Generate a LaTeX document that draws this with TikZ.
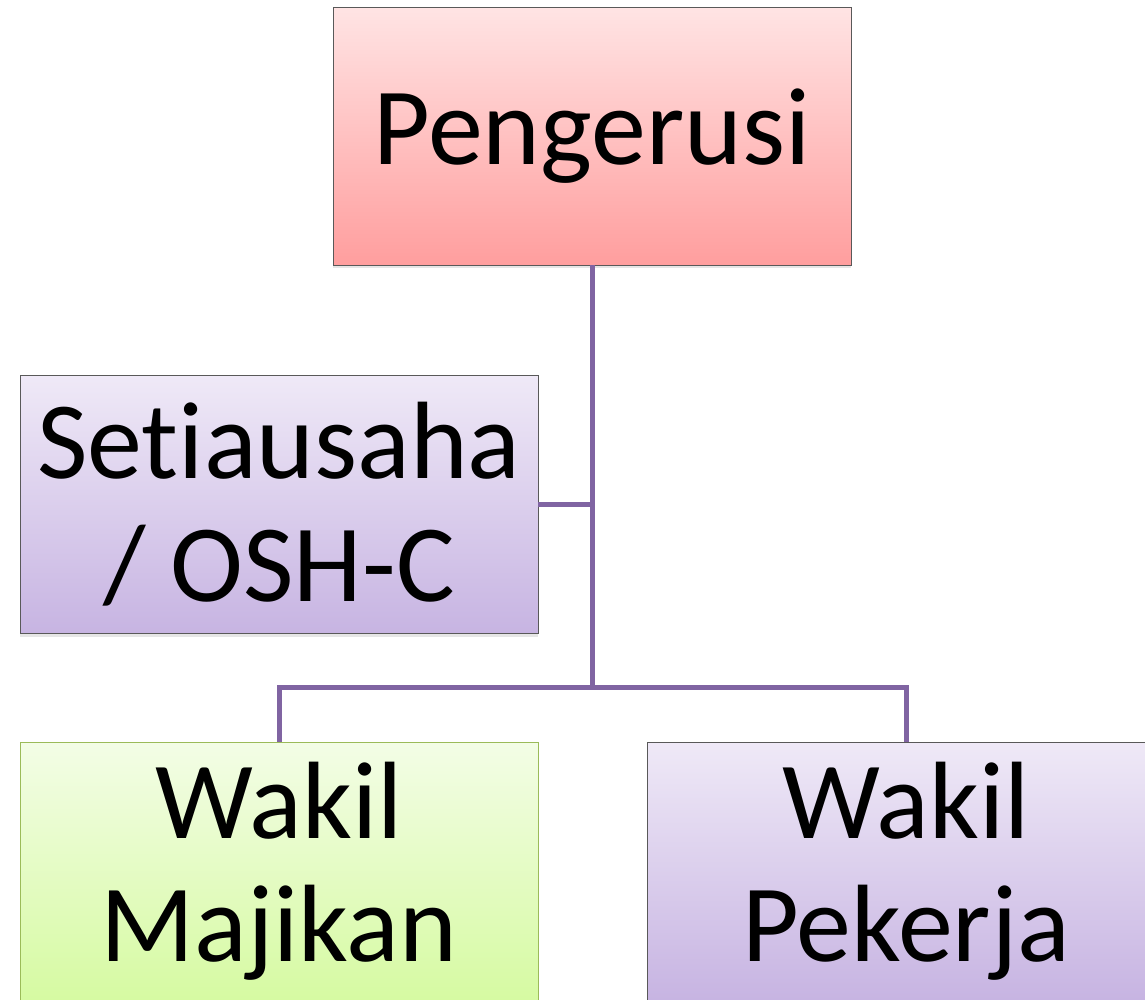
\documentclass[tikz,border=0pt]{standalone}
\usepackage{fontspec}
\setmainfont{Carlito}[Ligatures=NoCommon]
\usetikzlibrary{positioning,shadows}

\definecolor{linkline}{HTML}{8064A2}
\definecolor{redtop}{HTML}{FFE4E4}
\definecolor{redbot}{HTML}{FF9E9E}
\definecolor{violettop}{HTML}{EFE9F7}
\definecolor{violetbot}{HTML}{C7B4E2}
\definecolor{greentop}{HTML}{F3FDE6}
\definecolor{greenbot}{HTML}{D6FAA2}
\definecolor{greenedge}{HTML}{9BBB59}

\tikzset{
	orgbox/.style={draw=gray!70!black, line width=0.8pt, minimum width=518pt, minimum height=258pt,
		inner sep=0pt, align=center, font=\fontsize{110}{123}\selectfont,
		drop shadow={opacity=0.2, shadow xshift=0pt, shadow yshift=-3pt}},
	chair/.style={orgbox, top color=redtop, bottom color=redbot},
	member/.style={orgbox, top color=violettop, bottom color=violetbot},
	employer/.style={orgbox, draw=greenedge, top color=greentop, bottom color=greenbot},
	link/.style={draw=linkline, line width=5pt}
}

\begin{document}
\begin{tikzpicture}[x=1pt,y=-1pt]
	\useasboundingbox (0,0) rectangle (1145,999);
	\clip (0,0) rectangle (1145,999);
	\node[chair] (pengerusi) at (592,136) {Pengerusi};
	\node[member] (setiausaha) at (279,504.5) {Setiausaha\\/ OSH-C};
	\node[employer] (majikan) at (279,871) {Wakil\\Majikan};
	\node[member] (pekerja) at (906,871) {Wakil\\Pekerja};
	\coordinate (split) at (pengerusi.south |- 0,687);
	\draw[link] (pengerusi.south) -- (split);
	\draw[link] (setiausaha.east) -- (setiausaha.east -| split);
	\draw[link] (majikan.north) |- (split) -| (pekerja.north);
\end{tikzpicture}
\end{document}
